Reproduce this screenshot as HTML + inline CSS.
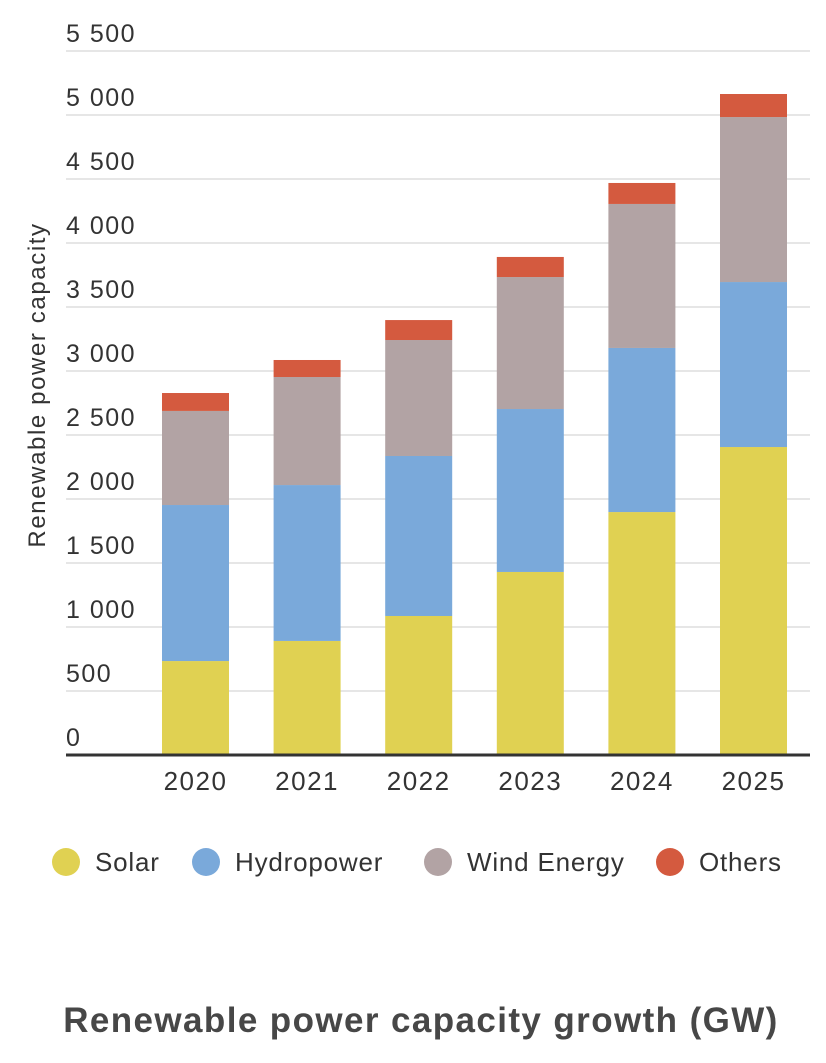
<!DOCTYPE html>
<html><head><meta charset="utf-8"><style>
body{margin:0;background:#fff;font-family:"Liberation Sans",sans-serif;}
svg text{font-family:"Liberation Sans",sans-serif;}
</style></head><body>
<svg id="chart" width="826" height="1058" viewBox="0 0 826 1058">
<g id="grid"></g>
<g id="bars"></g>
<g id="xl"></g>
<line x1="66" x2="810" y1="755" y2="755" stroke="#333" stroke-width="3"/>
<text transform="translate(45,385) rotate(-90)" text-anchor="middle" font-size="24" letter-spacing="1.6" fill="#333">Renewable power capacity</text>
<g id="legend"></g>
<text x="421" y="1032" text-anchor="middle" font-size="35" font-weight="bold" letter-spacing="1.4" fill="#474747">Renewable power capacity growth (GW)</text>
</svg>
<script>
const categories=["2020","2021","2022","2023","2024","2025"];
const solar=[734,891,1086,1430,1898,2406];
const hydro=[1219,1218,1250,1273,1282,1289];
const wind=[735,844,906,1031,1125,1289];
const others=[140,133,156,157,164,180];
const yTicks=[0,500,1000,1500,2000,2500,3000,3500,4000,4500,5000,5500];
const tickLabels=["0","500","1 000","1 500","2 000","2 500","3 000","3 500","4 000","4 500","5 000","5 500"];
const seriesNames=["Solar","Hydropower","Wind Energy","Others"];
const colors=["#e0d152","#7aa9da","#b2a3a4","#d45a3f"];
const NS="http://www.w3.org/2000/svg";
const y=v=>755-v*0.128;
const x=i=>162+i*111.6;
const bw=67;
function mk(t,a,p){const e=document.createElementNS(NS,t);for(const k in a)e.setAttribute(k,a[k]);p.appendChild(e);return e;}
const grid=document.getElementById('grid');
yTicks.forEach((v,i)=>{
  if(v>0){const l=mk('line',{x1:66,x2:810,y1:y(v),y2:y(v),stroke:'#e6e6e6','stroke-width':2},grid);
  
  }
  const t=mk('text',{x:66,y:y(v)-9,'font-size':25,'letter-spacing':1.5,fill:'#333'},grid);t.textContent=tickLabels[i];
  
  
});
const bars=document.getElementById('bars');
const series=[solar,hydro,wind,others];
categories.forEach((c,i)=>{
  let base=0;
  series.forEach((s,k)=>{
    const r=mk('rect',{x:x(i),y:y(base+s[i]),width:bw,height:s[i]*0.128,fill:colors[k]},bars);
    
    
    base+=s[i];
  });
  const t=mk('text',{x:x(i)+bw/2,y:790,'text-anchor':'middle','font-size':26,'letter-spacing':1.5,fill:'#333'},document.getElementById('xl'));
  t.textContent=c;
  
  
});
const lg=document.getElementById('legend');
const lx=[66,206,438,670];
seriesNames.forEach((n,k)=>{
  const c=mk('circle',{cx:lx[k],cy:862,r:14,fill:colors[k]},lg);
  
  
  const t=mk('text',{x:lx[k]+29,y:871,'font-size':26,'letter-spacing':0.8,fill:'#333'},lg);t.textContent=n;
  
  
});
</script>
</body></html>
